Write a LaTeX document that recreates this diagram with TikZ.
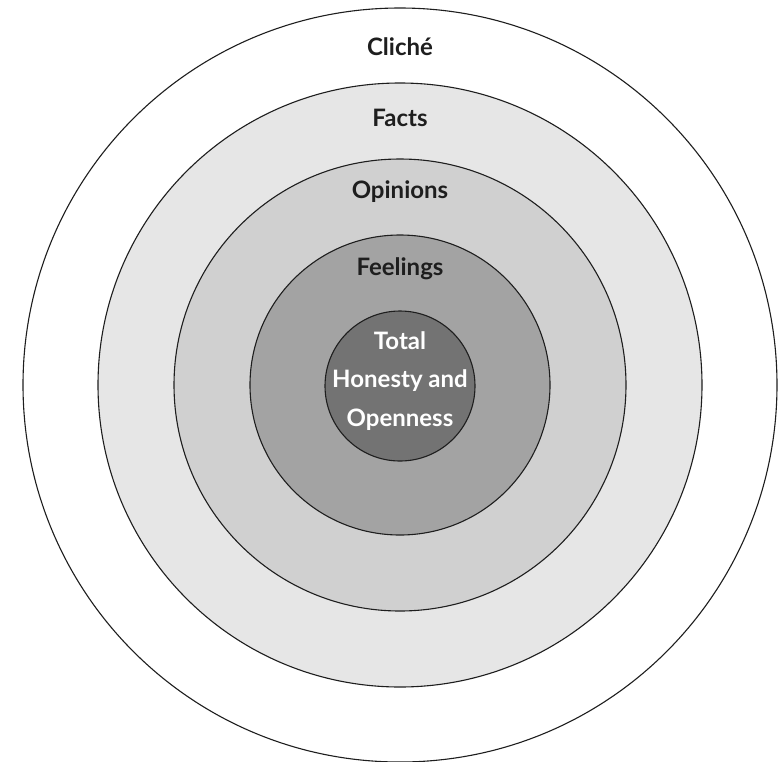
\documentclass[tikz,border=0pt]{standalone}
\usepackage{fontspec}
\setmainfont{Lato}
\definecolor{ringA}{HTML}{E6E6E6}
\definecolor{ringB}{HTML}{D0D0D0}
\definecolor{ringC}{HTML}{A3A3A3}
\definecolor{ringD}{HTML}{737373}
\definecolor{ink}{HTML}{1E1E1E}
\tikzset{
  ring/.style={circle, draw=ink, line width=1.1pt, inner sep=0pt, minimum size=#1},
  lab/.style={anchor=base, text=ink, font=\fontsize{24}{28}\selectfont\bfseries},
  corelab/.style={anchor=base, text=white, font=\fontsize{24}{28}\selectfont\bfseries}
}
\begin{document}
\begin{tikzpicture}[x=1pt,y=-1pt]
\useasboundingbox (0,0) rectangle (779,761);
\begin{scope}
\clip (0,0) rectangle (779,761);
\node[ring=754pt, fill=white] (cliche) at (400,385) {};
\node[ring=604pt, fill=ringA] (facts) at (400,385) {};
\node[ring=452pt, fill=ringB] (opinions) at (400,385) {};
\node[ring=300pt, fill=ringC] (feelings) at (400,385) {};
\node[ring=150pt, fill=ringD] (core) at (400,386) {};
\end{scope}
\node[lab] (tcliche) at (400,55) {Cliché};
\node[lab] (tfacts) at (400,126) {Facts};
\node[lab] (topinions) at (400,198) {Opinions};
\node[lab] (tfeelings) at (400,275) {Feelings};
\node[corelab] (t1) at (400,349) {Total};
\node[corelab] (t2) at (400,387) {Honesty and};
\node[corelab] (t3) at (400,426) {Openness};
\end{tikzpicture}
\end{document}
